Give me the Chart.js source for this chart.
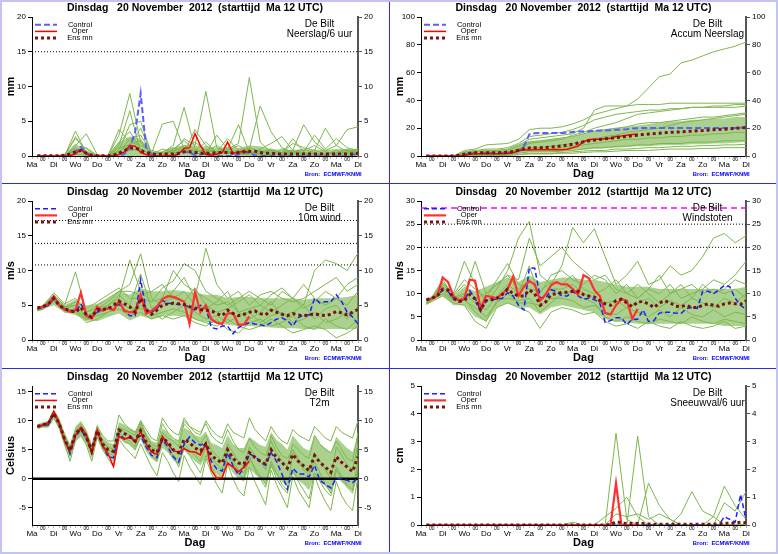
<!DOCTYPE html>
<html>
<head>
<meta charset="utf-8">
<title>Pluim De Bilt</title>
<script src="https://cdn.jsdelivr.net/npm/chart.js@4.4.1/dist/chart.umd.min.js"></script>
<style>
  html, body { margin: 0; padding: 0; background: #fff; }
  #page { position: relative; width: 778px; height: 554px; overflow: hidden; background: #fff; }
  #page canvas { position: absolute; }
  .rule { position: absolute; background: #2b2be6; }
  .edge { position: absolute; left: 0; top: 0; right: 0; bottom: 0; border: 2px solid #c4c4f2; pointer-events: none; }
</style>
</head>
<body>
<div id="page">
  <canvas id="neerslag" width="389" height="183" style="left:0;top:0"></canvas>
  <canvas id="accum" width="388" height="183" style="left:390px;top:0"></canvas>
  <canvas id="wind" width="389" height="184" style="left:0;top:184px"></canvas>
  <canvas id="stoten" width="388" height="184" style="left:390px;top:184px"></canvas>
  <canvas id="temp" width="389" height="185" style="left:0;top:369px"></canvas>
  <canvas id="sneeuw" width="388" height="185" style="left:390px;top:369px"></canvas>
  <div class="rule" style="left:389px;top:0;width:1px;height:554px"></div>
  <div class="rule" style="left:0;top:183px;width:778px;height:1px"></div>
  <div class="rule" style="left:0;top:368px;width:778px;height:1px"></div>
  <div class="edge"></div>
</div>
<script>
const FONT = '"Liberation Sans", Arial, Helvetica, sans-serif';
Chart.defaults.font.family = FONT;

// time axis: hours after start (Ma 12 UTC), 15 days
const axisHours = [0, 360];
const hours6 = Array.from({ length: 60 }, (_, k) => 6 * (k + 1));
const hours12 = [6].concat(Array.from({ length: 30 }, (_, k) => 12 * (k + 1)));
const dayNames = ['Ma', 'Di', 'Wo', 'Do', 'Vr', 'Za', 'Zo', 'Ma', 'Di', 'Wo', 'Do', 'Vr', 'Za', 'Zo', 'Ma', 'Di'];
const dayHours = dayNames.map((_, k) => 24 * k);
const midHours = dayHours.slice(1).map(h => h - 12);

const titleText = 'Dinsdag   20 November  2012  (starttijd  Ma 12 UTC)';
const station = 'De Bilt';
const axisName = 'Dag';
const sourceText = 'Bron:  ECMWF/KNMI';

// ---- Neerslag / 6 uur ----
const precipControl = [0,0,0,0,0,0,0.2,0.6,1.3,0.4, 0,0,0,0,0,0,0.3,1.2,3.5,9.0, 1.2,0.2,0,0,0,0,0.3,0.6,0.5,0.1,
  0.2,0.4,0.2,0,0,0,0,0.2,0.5,0.5, 0.1,0,0,0,0,0,0,0,0,0, 0,0,0,0,0,0,0,0,0.2,0.2];
const precipOper = [0,0,0,0,0,0,0,0.3,0.9,0.3, 0,0,0,0,0,0.2,0.6,1.5,1.4,0.5, 0.2,0,0,0,0,0,0.3,1.1,1.2,3.2,
  1.5,0.2,0.1,0.3,0.5,2.0,0.4,0.5,0.7,0.5];
const precipMean = [0.05,0.05,0.05,0.05,0.05,0.1,0.3,0.6,0.8,0.4, 0.1,0.05,0.05,0.05,0.1,0.4,0.8,1.1,1.2,0.8,
  0.5,0.3,0.2,0.3,0.3,0.3,0.4,0.6,0.6,0.5, 0.4,0.4,0.4,0.5,0.5,0.5,0.4,0.5,0.6,0.7,
  0.7,0.5,0.4,0.4,0.3,0.3,0.3,0.3,0.3,0.3, 0.3,0.3,0.3,0.3,0.3,0.3,0.3,0.3,0.3,0.4];
const precipHi = [0,0,0,0.3,1.8,0.8,0.1,0.1,2.0,2.8, 2.5,0.6,0.6,1.2,1.6,1.5,1.4,1.2,1.3,1.2, 1.5,1.4,1.0,0.9,0.9,0.9,0.9,0.9,1.0,1.0, 1.0];
const precipMembers = [
  [0,0,0,0,3.6,0.4,0,0,1.5,6.5, 0.6,0,0,0.4,1.0,0.3,0.5,0,0.8,0.3, 0.6,0.2,0,0.5,0.8,0.3,0,0.4,0.3,0, 0.5],
  [0,0,0,0.2,2.5,1.0,0,0,3.0,9.0, 2.0,0.2,0,1.0,2.2,0.8,0.6,1.5,0.5,0.3, 0.2,0.5,1.0,0.3,0.2,0.5,0.2,0.3,0.5,1.0, 0.3],
  [0,0,0,0,1.5,3.2,0.2,0,0.8,4.5, 5.0,0.3,0.5,1.5,7.0,1.0,0.4,0.2,0.8,1.5, 0.6,0.3,0.2,1.0,0.5,0.2,0.8,0.3,0.2,0.6, 0.4],
  [0,0,0,0,0.8,0.5,0,0,2.0,3.5, 1.0,0.2,1.0,0.5,2.5,1.5,9.3,1.2,0.5,0.3, 0.4,0.8,0.3,0.2,0.5,0.3,0.4,0.2,0.8,0.3, 0.2],
  [0,0,0,0,1.0,0.3,0,0,0.5,2.5, 3.0,0.5,0.3,0.6,1.5,0.5,1.0,0.6,1.0,1.8, 11.3,2.0,0.5,0.3,0.6,1.0,0.4,0.3,0.5,0.8, 0.5],
  [0,0,0,0,2.8,0.6,0,0.1,3.8,2.0, 1.5,0.8,0.4,0.8,1.2,2.0,0.8,0.5,0.6,0.8, 1.0,7.2,3.5,1.2,0.5,0.8,1.5,0.6,0.3,0.5, 0.8],
  [0,0,0,0,0.5,1.2,0.1,0,1.2,1.5, 4.0,0.4,4.6,5.0,1.0,0.8,2.0,0.5,0.4,0.6, 0.3,1.0,1.8,2.8,0.8,4.5,2.0,0.8,1.5,0.6, 1.0],
  [0,0,0,0,1.2,0.2,0,0,0.6,1.8, 2.2,0.2,0.6,1.2,0.5,3.8,1.5,0.6,2.5,0.8, 1.2,0.6,0.8,0.5,1.8,1.2,0.8,4.0,1.5,3.8, 4.2],
  [0,0,0,0,0.3,0.1,0,0,0.3,0.8, 1.0,0.1,0.2,0.3,0.6,0.4,0.3,3.0,1.0,4.5, 0.5,0.4,0.6,0.3,2.5,0.6,3.0,1.0,2.5,1.2, 0.8]
];
const precipDotted = [15];

// ---- Accum neerslag ----
const accumControl = [0,0,0,0,0,0,0.2,0.8,2.0,2.2, 2.2,2.2,2.2,2.2,2.2,2.3,2.5,3.5,7.0,15.5,
  16.4,16.6,16.6,16.6,16.6,16.6,16.8,17.2,17.6,17.7, 17.8,18.1,18.3,18.4,18.6,18.8,19.0,19.3,19.7,20.0,
  20.1,20.1,20.1,20.1,20.1,20.1,20.1,20.1,20.1,20.1, 20.1,20.1,20.1,20.2,20.2,20.2,20.2,20.2,20.3,20.4];
const accumOper = [0,0,0,0,0,0,0.1,0.4,1.3,1.6, 1.6,1.6,1.6,1.6,1.6,1.8,2.4,3.9,4.3,4.4,
  4.5,4.5,4.5,4.5,4.5,4.5,4.8,5.9,7.1,10.3, 11.8,12.0,12.1,12.4,12.7,14.0,14.4,14.9,15.4,15.8];
const accumMean = [0,0,0,0,0,0.1,0.5,1.3,2.0,2.3, 2.4,2.4,2.4,2.4,2.5,2.7,3.2,4.2,5.2,5.8,
  6.0,6.0,6.1,6.4,6.8,7.3,7.8,8.4,9.3,10.2, 10.9,11.4,11.9,12.4,12.8,13.2,13.7,14.1,14.6,15.0,
  15.4,15.8,16.1,16.4,16.7,17.0,17.2,17.4,17.6,17.9, 18.1,18.3,18.6,18.9,19.1,19.3,19.6,19.9,20.2,20.6];
const accumLo = [0,0,0,0,0.5,1,1,1,1,2, 3,3,3,3.5,4,4.5,5,5.5,6,6.5, 7,7,7.5,8,8,8.5,8.5,9,9,9.5, 10];
const accumHi = [0,0,0,0.5,3,4,4,4.5,5,8, 11,11,12,13,14,16,18,19,20,21, 22,23,24,25,25,26,26,27,27,28, 28];
const accumMembers = [
  [0,0,0,0,4,5,8,8.5,9,12, 19,20,20,21,23,26,30,32,34,36, 41,49,57,59,67,69,72,75,77,79, 82],
  [0,0,0,0,2,3,4,4,5,8, 12,13,14,15,16,20,33,36,36,36, 37,37,37,38,38,38,38,38,38,38, 38],
  [0,0,0,0,1,2,2,3,3,5, 9,10,11,12,15,17,20,22,24,27, 30,31,32,33,34,35,35,36,36,37, 37],
  [0,0,0,0,1,1,2,2,2,4, 6,6,7,8,9,10,12,14,15,17, 18,19,20,22,24,25,26,27,28,29, 30],
  [0,0,0,0,0.5,1,1,1,1.5,3, 5,5,5,6,7,8,9,10,11,12, 12,13,13,14,14,15,15,16,16,17, 17],
  [0,0,0,0,0.5,0.5,0.5,0.5,1,2, 3,3,3,3.5,4,5,6,6,7,7, 8,8,9,9,9,10,10,10,11,11, 11],
  [0,0,0,0,0,0.5,0.5,0.5,0.5,1, 1.5,1.5,1.5,2,2,2.5,3,3,3.5,4, 4,4,4.5,5,5,5,5.5,5.5,6,6, 6],
  [0,0,0,0,2,3,3,3,4,7, 10,11,12,13,14,16,18,19,20,21, 23,24,24,25,26,27,28,28,29,30, 31],
  [0,0,0,0,3,4,5,5,6,9, 14,15,16,17,19,22,26,28,30,31, 32,33,33,34,34,35,35,35,35,35, 36],
  [0,0,0,0,0.2,0.3,0.3,0.3,0.5,1, 2,2,2,2.5,3,3.5,4,4,5,5, 5.5,6,6,6.5,7,7,7.5,7.5,8,8, 8.5]
];

// ---- 10m wind ----
const windControl = [4.5,4.7,5.0,5.9,5.0,4.5,4.3,4.0,5.2,3.7, 3.3,4.0,4.4,4.5,4.3,5.2,4.2,3.5,3.5,8.7,
  4.3,4.0,4.5,5.7,5.3,5.2,5.1,5.1,4.7,4.3, 5.0,4.7,1.8,1.6,2.0,2.0,0.9,1.8,2.2,2.5,
  2.3,2.2,2.0,2.5,3.0,3.2,2.8,2.0,3.2,3.6, 3.6,6.0,5.3,5.5,5.5,6.5,5.5,4.0,3.3,2.3];
const windOper = [4.6,4.8,5.2,6.3,5.0,4.4,4.1,4.3,6.8,3.5, 3.1,4.8,4.2,4.6,4.3,5.6,4.2,4.0,3.9,6.5,
  3.8,4.2,4.8,5.9,6.3,6.2,5.9,5.5,2.3,6.9, 4.0,5.0,3.0,2.5,2.3,3.8,3.9,2.2,2.2,3.4];
const windMean = [4.6,4.8,5.1,6.0,5.0,4.5,4.2,4.0,4.7,3.6, 3.3,4.4,4.4,4.5,5.0,5.6,5.2,4.8,4.0,6.0,
  4.4,3.7,4.3,5.0,5.2,5.3,5.2,5.1,4.8,4.6, 4.4,4.3,4.2,3.8,3.5,4.3,3.8,3.5,3.7,4.0,
  4.2,3.8,3.6,4.3,4.0,3.7,3.5,3.8,3.6,3.5, 3.6,3.8,3.6,3.5,3.7,4.1,3.9,3.6,4.0,4.4];
const windLo = [4.1,4.4,5.0,4.0,3.6,2.8,2.7,3.3,3.8,2.8, 3.5,3.0,3.5,3.5,3.4,3.0,2.6,2.4,2.2,2.0, 2.0,1.9,1.8,1.7,1.7,1.6,1.6,1.6,1.6,1.6, 1.6];
const windHi = [4.6,5.0,6.5,5.0,5.8,5.0,5.2,6.0,7.0,6.5, 7.5,7.0,7.0,7.2,7.0,6.8,6.5,6.5,6.0,6.2, 6.2,6.0,6.0,6.0,6.0,5.8,6.0,6.0,6.0,6.2, 6.5];
const windMembers = [
  [4.5,4.8,6.5,5.0,9.8,4.0,4.5,5.5,7.0,8.0, 12.4,6.0,5.0,7.0,9.0,6.0,13.2,8.0,6.0,7.0, 5.0,6.5,7.0,6.0,5.5,6.0,7.0,8.0,9.0,7.0, 8.0],
  [4.4,5.0,6.0,4.5,5.0,3.5,4.0,5.0,6.0,11.5, 7.0,5.5,6.0,10.0,8.0,7.0,6.0,5.0,5.5,4.0, 4.5,5.0,4.0,5.0,6.0,5.0,10.0,11.5,11.0,10.0, 12.5],
  [4.3,4.5,5.5,4.0,4.0,2.5,3.0,4.0,5.0,4.0, 5.0,3.5,4.0,4.5,4.0,3.0,2.5,2.0,3.0,2.0, 1.5,2.0,3.0,2.0,1.0,1.5,2.0,1.5,0.3,1.0, 2.0],
  [4.6,4.7,6.2,4.7,5.5,4.5,5.5,6.5,7.5,6.0, 6.0,5.5,7.5,8.5,11.0,10.0,7.0,6.0,5.0,6.0, 7.0,6.0,5.0,7.0,6.0,8.0,6.0,5.0,6.0,5.0, 7.0],
  [4.2,4.4,5.8,4.2,4.5,3.0,3.5,4.0,4.5,3.5, 4.0,3.0,3.5,3.0,3.5,2.5,2.0,3.0,1.5,1.0, 2.5,3.0,2.0,2.5,3.5,2.0,1.5,3.0,2.0,1.5, 3.0],
  [4.4,4.6,6.0,4.8,5.0,3.2,4.5,5.0,6.5,5.0, 9.5,4.5,5.5,6.0,7.0,5.0,4.5,5.5,7.0,4.0, 3.0,4.0,5.5,3.5,4.0,5.0,3.0,4.5,5.0,3.0, 4.5],
  [4.5,4.9,6.8,5.2,6.0,4.0,5.0,6.0,7.0,7.0, 6.5,7.0,8.0,6.0,5.5,7.5,5.0,4.0,4.5,5.5, 6.5,5.0,6.5,7.5,6.0,4.5,5.5,7.0,6.0,8.0, 9.0],
  [4.3,4.6,5.6,4.4,4.2,2.8,3.8,4.5,5.5,4.5, 4.5,4.0,3.0,4.0,5.0,4.0,3.0,3.5,2.5,3.5, 4.0,2.5,3.5,4.0,2.5,3.0,4.0,2.5,3.0,4.0, 2.5]
];
const windDotted = [10.8, 13.9, 17.2];

// ---- Windstoten ----
const gustControl = [8.5,9.0,9.5,10.8,10.5,9.0,8.3,8.7,10.6,9.0, 6.3,8.5,8.7,8.8,9.0,10.2,9.5,7.5,6.5,15.6,
  15.5,9.2,9.0,10.8,10.5,9.5,9.5,10.5,9.5,8.8, 9.0,8.7,8.0,3.8,4.2,4.8,4.8,3.3,4.5,4.5,
  6.5,4.0,4.2,5.8,6.0,6.0,5.8,5.7,6.8,7.0, 6.8,10.5,10.5,10.0,10.8,11.8,11.5,9.0,7.5,6.6];
const gustOper = [8.7,9.0,9.5,13.5,12.5,9.5,8.5,9.0,13.0,12.8, 6.8,9.5,9.3,9.0,10.0,11.0,13.7,9.5,11.5,12.7,
  12.0,8.5,9.8,11.8,12.5,12.0,12.0,11.0,9.8,14.0, 13.3,10.8,9.5,5.8,5.5,7.5,8.8,8.5,4.6,6.7];
const gustMean = [8.7,9.0,9.5,11.0,10.8,9.0,8.3,8.5,9.8,8.8, 6.5,8.5,8.7,9.0,9.8,11.0,10.0,9.5,9.5,10.8,
  10.0,7.5,8.2,9.8,10.0,10.3,10.3,10.5,10.5,9.8, 9.5,9.3,8.5,7.8,7.5,8.5,8.8,8.0,7.2,8.2,
  8.3,7.8,7.0,8.0,8.5,8.0,7.3,7.2,7.5,7.0, 7.0,7.5,7.8,7.5,7.3,7.8,8.0,7.8,7.7,8.5];
const gustLo = [7.6,8.5,9.5,7.5,7.5,5.0,4.0,7.0,8.0,7.0, 7.0,5.5,7.0,7.5,7.0,6.5,6.0,4.5,4.0,3.8, 3.5,3.5,3.5,3.5,3.5,3.5,3.5,3.5,3.0,3.0, 3.0];
const gustHi = [8.3,9.5,12.5,9.5,11.5,10.5,11.5,12.5,13.5,12.5, 14.0,12.5,13.0,13.5,13.5,13.0,13.0,12.5,12.0,11.5, 11.5,11.5,11.0,11.0,11.0,11.0,11.0,11.0,11.0,11.0, 11.5];
const gustMembers = [
  [8.0,9.0,12.0,10.0,17.0,12.0,8.0,11.0,15.0,22.0, 25.6,14.0,12.0,16.0,24.3,21.0,24.0,18.0,12.0,14.0, 17.0,12.0,13.0,16.0,14.0,15.0,18.0,22.0,23.0,21.0, 22.5],
  [7.8,8.5,11.0,9.0,9.5,17.0,10.0,12.0,14.0,13.0, 22.0,16.0,18.0,20.0,17.0,15.0,13.0,14.0,11.0,10.0, 9.0,11.0,10.0,12.0,9.0,10.0,11.0,13.0,12.0,14.0, 17.0],
  [7.7,8.3,9.5,8.0,7.5,4.0,2.5,7.0,8.0,7.0, 6.0,2.5,6.0,7.0,6.5,5.5,6.0,4.0,3.0,3.5, 2.5,4.0,3.0,2.5,4.0,3.0,2.5,3.0,4.0,2.5, 3.0],
  [8.2,9.2,13.0,9.5,12.0,9.0,10.0,12.0,14.0,11.0, 13.0,10.0,14.0,15.0,13.0,12.0,14.0,13.0,10.0,12.0, 9.0,11.0,14.0,10.0,12.0,9.0,12.0,10.0,11.0,13.0, 12.0],
  [7.9,8.7,10.0,8.5,8.5,7.0,5.0,8.0,10.0,8.0, 8.0,7.5,9.0,9.0,8.5,7.0,7.5,6.0,5.5,7.0, 6.0,5.0,6.5,5.0,7.0,5.5,5.0,6.5,5.0,6.0, 5.5],
  [8.0,8.8,11.5,9.2,10.0,8.0,6.5,9.5,12.0,10.0, 16.0,9.0,11.0,11.0,12.0,10.0,9.0,8.0,8.5,7.0, 8.0,9.0,7.0,8.5,7.5,9.0,8.0,7.0,9.0,8.0, 10.0],
  [7.8,8.6,10.5,8.7,9.0,6.0,4.0,8.5,9.0,8.5, 9.0,6.0,8.0,10.0,10.5,9.0,8.0,5.0,4.0,5.0, 4.0,3.5,4.5,4.0,3.5,5.0,4.0,3.5,4.5,4.0, 3.5],
  [8.1,9.0,12.5,9.8,13.0,11.0,9.0,13.0,16.5,12.0, 11.0,10.5,12.5,12.0,14.0,11.0,10.0,11.0,13.0,10.0, 12.0,10.0,8.0,10.0,11.0,12.0,10.0,11.0,10.0,11.0, 9.0]
];
const gustDotted = [20, 25];
const gustWarning = [28.5];

// ---- T2m ----
const tempControl = [9.0,9.2,9.3,11.3,9.5,6.8,4.3,7.3,8.5,7.0, 4.7,8.0,5.8,3.8,3.6,7.8,6.9,7.0,6.9,7.4,
  5.5,4.0,3.6,6.8,5.5,3.8,2.9,6.0,7.2,6.2, 5.8,6.2,3.0,1.7,1.3,4.5,2.2,0.6,1.8,4.3,
  3.8,3.0,2.3,4.5,3.0,0.8,-1.8,1.8,0.8,0.8, 0.3,2.3,-0.3,-1.0,-1.6,0.0,0.0,-0.3,-0.7,0.2];
const tempOper = [9.0,9.3,9.6,11.6,9.7,6.5,4.8,7.5,8.9,7.6, 4.5,8.4,5.6,4.3,2.1,7.3,6.8,7.2,6.3,8.1,
  6.0,4.6,4.2,7.3,6.0,4.8,4.6,5.2,4.7,4.6, 4.1,6.1,1.5,0.1,0.2,2.7,2.0,1.2,2.0,3.0];
const tempMean = [9.0,9.3,9.5,11.3,9.5,6.8,4.8,7.8,8.7,7.2, 4.8,8.3,6.0,5.0,4.7,8.4,7.8,7.3,6.5,8.3,
  6.3,5.0,4.5,7.0,6.3,5.0,4.5,6.8,6.2,5.3, 4.8,6.0,4.0,3.3,2.7,5.0,3.5,2.7,2.5,4.5,
  3.7,3.0,2.5,5.0,3.6,2.8,1.8,4.2,3.0,2.2, 1.4,4.0,2.8,2.0,1.1,3.8,2.8,2.0,1.2,3.8];
const tempLo = [8.5,8.8,8.8,10.3,8.5,5.5,3.5,6.5,7.3,6.0, 3.5,7.0,4.8,3.8,3.3,7.0,6.2,5.8,4.8,6.8,
  4.7,3.5,2.8,5.3,4.5,3.2,2.5,4.8,4.0,3.0, 2.3,3.8,1.8,0.8,0.0,2.5,1.0,0.0,-0.5,1.8,
  0.8,0.0,-0.8,1.8,0.5,-0.5,-1.5,0.8,-0.3,-1.0, -2.0,0.5,-0.5,-1.3,-2.2,0.3,-0.6,-1.4,-2.2,0.3];
const tempHi = [9.4,9.8,10.0,12.0,10.5,8.0,6.0,9.0,10.0,8.5, 6.0,9.5,7.3,6.3,6.0,9.8,9.3,8.8,8.2,9.8,
  8.0,6.5,6.2,8.7,8.0,6.8,6.5,8.8,8.3,7.5, 7.2,8.2,6.2,5.8,5.3,7.5,6.0,5.3,5.3,7.2,
  6.5,5.8,5.5,8.0,6.7,6.0,5.0,7.5,6.3,5.3, 4.8,7.5,6.0,5.3,4.5,7.3,6.2,5.3,4.6,7.3];
const tempMembers = [
  [9.2,9.5,9.8,11.8, 10.0,7.5,5.5,8.5, 9.5,8.0,5.5,9.0, 7.5,6.5,6.5,11.0, 9.5,8.5,8.0,10.0, 8.5,7.0,6.5,10.5, 9.0,8.0,7.5,10.5,
   9.0,8.0,7.5,10.0, 8.5,7.5,7.0,9.5, 8.0,7.5,7.0,10.5, 8.5,7.5,6.5,9.0, 7.5,6.5,6.0,8.5, 7.5,7.0,6.5,9.0, 8.0,7.0,6.5,9.0, 8.0,7.5,7.0,10.0],
  [8.8,9.0,9.0,10.5, 8.8,6.0,3.0,6.5, 7.5,5.8,3.0,7.2, 5.0,3.5,2.0,6.8, 5.5,4.5,3.5,6.0, 4.0,2.0,0.5,4.5, 3.0,1.0,-0.5,4.0,
   2.0,0.5,-1.0,3.5, 1.0,-1.0,-2.5,2.5, 0.0,-2.0,-3.0,2.0, -0.5,-2.5,-4.5,1.5, -1.0,-3.0,-5.0,0.5, -2.0,-3.5,-5.0,0.5, -2.0,-4.0,-5.5,-0.5, -3.0,-4.5,-5.5,0.5],
  [9.1,9.4,9.6,11.0, 9.6,7.0,5.0,8.0, 8.8,7.5,5.0,8.8, 6.5,5.5,5.0,9.0, 8.0,7.5,6.5,9.5, 7.0,5.5,5.0,8.0, 7.0,6.5,5.5,9.5,
   8.5,7.0,6.0,7.5, 5.0,4.0,3.0,6.0, 4.5,3.0,2.0,5.5, 4.0,3.0,1.5,7.5, 5.5,4.0,3.5,5.0, 3.5,2.0,1.0,4.5, 3.0,1.5,0.0,5.5, 4.0,2.5,1.5,6.0],
  [8.9,9.2,9.4,11.2, 9.2,6.5,4.5,7.5, 8.5,6.8,4.5,8.2, 6.0,4.5,4.0,8.0, 7.0,6.5,5.5,8.5, 6.5,5.0,3.5,7.5, 5.5,4.0,2.0,5.5,
   4.0,2.5,1.0,4.0, 2.0,0.5,0.0,4.0, 2.5,1.0,0.0,3.5, 2.0,0.5,-1.0,3.0, 1.0,-1.0,-2.0,4.5, 3.0,1.5,0.5,3.0, 1.0,-1.0,-2.5,2.0, 0.5,-1.0,-2.0,3.0],
  [9.0,9.3,9.5,11.5, 9.8,7.2,5.2,8.2, 9.0,7.8,5.2,8.5, 6.5,5.0,4.5,8.8, 8.5,8.0,7.5,10.0, 7.5,6.0,5.5,9.5, 8.0,7.0,6.5,10.0,
   9.0,8.5,8.0,9.5, 7.5,6.5,6.0,8.5, 6.5,5.0,4.5,7.0, 5.5,4.5,4.0,6.5, 4.5,3.0,2.0,6.0, 5.0,4.0,3.5,7.5, 6.0,5.0,4.5,6.5, 5.0,3.5,3.0,8.0],
  [9.0,9.1,9.3,11.0, 9.3,6.8,4.0,7.0, 8.0,6.5,4.0,7.8, 5.5,4.0,3.0,7.5, 6.5,6.0,5.0,7.5, 5.5,4.0,3.0,6.5, 5.0,3.5,2.5,6.0,
   5.0,4.0,3.0,5.5, 3.5,2.5,1.5,5.0, 3.0,1.5,1.0,4.0, 1.5,0.0,-1.5,2.5, 0.0,-1.5,-2.5,1.5, -0.5,-2.0,-3.5,1.0, -0.5,-2.0,-3.0,1.5, 0.0,-1.5,-2.5,2.0]
];
const tempZero = [0];

// ---- Sneeuwval / 6 uur ----
const snowControl = [0,0,0,0,0,0,0,0,0,0, 0,0,0,0,0,0,0,0,0,0, 0,0,0,0,0,0,0,0,0,0,
  0,0,0,0,0,0,0,0,0,0, 0,0,0,0,0,0,0,0,0,0, 0,0,0,0,0,0.3,0.2,0.1,1.1,0.2];
const snowOper = [0,0,0,0,0,0,0,0,0,0, 0,0,0,0,0,0,0,0,0,0, 0,0,0,0,0,0,0,0,0,0, 0,0,0,0,0,1.5,0,0,0,0];
const snowMean = [0,0,0,0,0,0,0,0,0,0, 0,0,0,0,0,0,0,0,0,0, 0,0,0,0,0,0,0,0,0,0,
  0,0,0,0,0.02,0.12,0.08,0.05,0.05,0.06, 0.05,0.04,0.03,0.03,0.03,0.03,0.03,0.03,0.03,0.03,
  0.03,0.03,0.03,0.03,0.04,0.06,0.06,0.07,0.1,0.08];
const snowMembers = [
  [0,0,0,0,0,0,0,0,0,0, 0,0,0,0,0,0,0,0,3.3,0.2, 0,0,0,0,0,0,0,0,0,0, 0],
  [0,0,0,0,0,0,0,0,0,0, 0,0,0,0,0,0,0,0,0,0, 3.2,0.3,0,0,0,0,0,0,0,0, 0],
  [0,0,0,0,0,0,0,0,0,0, 0,0,0,0,0,0,0,0.3,0.6,1.0, 0.3,0,0,0,0,0,0,0,0,0, 0],
  [0,0,0,0,0,0,0,0,0,0, 0,0,0,0,0,0,0,0,0,0, 0,1.5,0.7,0.2,0,0,0,0,0,0, 0],
  [0,0,0,0,0,0,0,0,0,0, 0,0,0,0,0,0,0,0,0,0, 0,0,0,0,0.4,1.2,0.5,0.3,0,0, 0],
  [0,0,0,0,0,0,0,0,0,0, 0,0,0,0,0,0,0,0,0,0, 0,0,0,0,0,0,0,0.3,1.4,0.7, 0.2],
  [0,0,0,0,0,0,0,0,0,0, 0,0,0,0,0,0,0,0,0,0, 0,0,0,0,0,0,0,0,0.8,0.5, 1.2],
  [0,0,0,0,0,0,0,0,0,0, 0,0,0,0,0.1,0,0,0,0.4,0.3, 0.4,0.2,0.4,0.2,0,0,0,0,0,0, 0]
];

// ---- styles ----
const memberStyle = { color: '#7fb64f', width: 1 };
const bandColor = 'rgba(120, 180, 74, 0.62)';
const noLine = { color: 'rgba(0,0,0,0)', width: 0 };
const meanStyle = { color: '#7a1212', width: 3, dash: [3, 3] };
const ctlWide = { color: '#5c5cff', width: 2, dash: [6, 3] };
const ctlThin = { color: '#1e1eff', width: 1.5, dash: [5, 3] };
const operThin = { color: '#ff0000', width: 1.5 };
const operWide = { color: '#ff3030', width: 2.2 };
const dotted = { color: '#000', width: 1, dash: [1, 2] };
const magenta = { color: '#ff00ff', width: 1.5, dash: [6, 4] };
const zeroLine = { color: '#000', width: 2.5 };

const panels = [
  { id: 'neerslag', h: 183, lw: 32, rw: 31, min: 0, max: 20, step: 5, unit: 'mm', label: 'Neerslag/6 uur',
    members: precipMembers, memberHours: hours12, lo: null, hi: precipHi, bandHours: hours12,
    control: precipControl, oper: precipOper, mean: precipMean, ctl: ctlWide, op: operThin,
    refs: [{ values: precipDotted, style: dotted }] },
  { id: 'accum', h: 183, lw: 31, rw: 32, min: 0, max: 100, step: 20, unit: 'mm', label: 'Accum Neerslag',
    members: accumMembers, memberHours: hours12, lo: accumLo, hi: accumHi, bandHours: hours12,
    control: accumControl, oper: accumOper, mean: accumMean, ctl: ctlWide, op: operThin, refs: [] },
  { id: 'wind', h: 184, lw: 32, rw: 31, min: 0, max: 20, step: 5, unit: 'm/s', label: '10m wind',
    members: windMembers, memberHours: hours12, lo: windLo, hi: windHi, bandHours: hours12,
    control: windControl, oper: windOper, mean: windMean, ctl: ctlThin, op: operWide,
    refs: [{ values: windDotted, style: dotted }] },
  { id: 'stoten', h: 184, lw: 31, rw: 32, min: 0, max: 30, step: 5, unit: 'm/s', label: 'Windstoten',
    members: gustMembers, memberHours: hours12, lo: gustLo, hi: gustHi, bandHours: hours12,
    control: gustControl, oper: gustOper, mean: gustMean, ctl: ctlThin, op: operWide,
    refs: [{ values: gustDotted, style: dotted }, { values: gustWarning, style: magenta }] },
  { id: 'temp', h: 185, lw: 32, rw: 31, min: -8, max: 16, step: 5, unit: 'Celsius', label: 'T2m',
    members: tempMembers, memberHours: hours6, lo: tempLo, hi: tempHi, bandHours: hours6,
    control: tempControl, oper: tempOper, mean: tempMean, ctl: ctlThin, op: operThin,
    refs: [{ values: tempZero, style: zeroLine }] },
  { id: 'sneeuw', h: 185, lw: 31, rw: 32, min: 0, max: 5, step: 1, unit: 'cm', label: 'Sneeuwval/6 uur',
    members: snowMembers, memberHours: hours12, lo: null, hi: null, bandHours: hours12,
    control: snowControl, oper: snowOper, mean: snowMean, ctl: ctlThin, op: operWide, refs: [] }
];
const panelById = {};
panels.forEach(p => { panelById[p.id] = p; });

function lineSet(values, hours, st, order, extra) {
  return Object.assign({
    data: values.map((v, k) => ({ x: hours[k], y: v })),
    borderColor: st.color,
    borderWidth: st.width,
    borderDash: st.dash || [],
    pointRadius: 0,
    fill: false,
    tension: 0,
    order: order
  }, extra || {});
}

const decor = {
  id: 'decor',
  afterDraw(chart) {
    const p = panelById[chart.canvas.id];
    const ctx = chart.ctx, a = chart.chartArea, xs = chart.scales.x;
    const cx = (a.left + a.right) / 2;
    ctx.save();
    ctx.textBaseline = 'middle';
    ctx.textAlign = 'center';
    ctx.fillStyle = '#000';
    ctx.font = 'bold 10.5px ' + FONT;
    ctx.fillText(titleText, cx, a.top - 9);

    // legend block
    const rows = [[p.ctl, 'Control'], [p.op, 'Oper'], [meanStyle, 'Ens mn']];
    rows.forEach((r, k) => {
      const y = a.top + 7.8 + k * 6.6;
      ctx.beginPath();
      ctx.strokeStyle = r[0].color;
      ctx.lineWidth = r[0].width;
      ctx.setLineDash(r[0].dash || []);
      ctx.moveTo(a.left + 3, y);
      ctx.lineTo(a.left + 25, y);
      ctx.stroke();
      ctx.setLineDash([]);
      ctx.font = '7.5px ' + FONT;
      ctx.fillText(r[1], a.left + 48, y);
    });

    ctx.font = '10px ' + FONT;
    ctx.fillText(station, a.right - 38.5, a.top + 6.8);
    ctx.fillText(p.label, a.right - 38.5, a.top + 17.4);

    ctx.font = '8px ' + FONT;
    dayNames.forEach((d, k) => ctx.fillText(d, xs.getPixelForValue(dayHours[k]), a.bottom + 8.6));
    ctx.font = '5px ' + FONT;
    midHours.forEach(h => ctx.fillText('00', xs.getPixelForValue(h), a.bottom + 3.8));

    ctx.font = 'bold 11px ' + FONT;
    ctx.fillText(axisName, cx, a.bottom + 18.3);

    ctx.textAlign = 'right';
    ctx.fillStyle = '#0000ff';
    ctx.font = 'bold 5.8px ' + FONT;
    ctx.fillText(sourceText, a.right + 3.7, a.bottom + 18.3);

    ctx.translate(a.left - 20.6, (a.top + a.bottom) / 2);
    ctx.rotate(-Math.PI / 2);
    ctx.textAlign = 'center';
    ctx.fillStyle = '#000';
    ctx.font = 'bold 11px ' + FONT;
    ctx.fillText(p.unit, 0, 0);
    ctx.restore();
  }
};

panels.forEach(p => {
  const ds = [];
  p.members.forEach(m => ds.push(lineSet(m, p.memberHours, memberStyle, 6)));
  if (p.hi) {
    if (p.lo) ds.push(lineSet(p.lo, p.bandHours, noLine, 7));
    ds.push(lineSet(p.hi, p.bandHours, noLine, 7, { fill: p.lo ? '-1' : 'origin', backgroundColor: bandColor }));
  }
  p.refs.forEach(r => r.values.forEach(v => ds.push(lineSet([v, v], axisHours, r.style, 4))));
  ds.push(lineSet(p.control, hours6, p.ctl, 3));
  ds.push(lineSet(p.oper, hours6, p.op, 2));
  ds.push(lineSet(p.mean, hours6, meanStyle, 1));

  const yTicks = { stepSize: p.step, includeBounds: false, color: '#000', font: { size: 8 }, padding: 2 };
  new Chart(document.getElementById(p.id), {
    type: 'line',
    data: { datasets: ds },
    options: {
      responsive: false,
      animation: false,
      events: [],
      layout: { padding: { top: 17, left: 0, right: 0, bottom: 0 } },
      plugins: { legend: { display: false }, tooltip: { enabled: false } },
      scales: {
        x: {
          type: 'linear', min: axisHours[0], max: axisHours[1],
          ticks: { display: false, stepSize: 6 },
          grid: { drawOnChartArea: false, tickLength: 3, color: '#b8b8b8' },
          border: { color: '#000', width: 1 },
          afterFit: s => { s.height = p.h - 156; }
        },
        y: {
          type: 'linear', position: 'left', min: p.min, max: p.max,
          ticks: yTicks,
          grid: { drawOnChartArea: false, tickLength: 4, color: '#000' },
          border: { color: '#000', width: 1 },
          afterFit: s => { s.width = p.lw; }
        },
        y2: {
          type: 'linear', position: 'right', min: p.min, max: p.max,
          ticks: yTicks,
          grid: { drawOnChartArea: false, tickLength: 4, color: '#555' },
          border: { color: '#555', width: 2 },
          afterFit: s => { s.width = p.rw; }
        }
      }
    },
    plugins: [decor]
  });
});
</script>
</body>
</html>
